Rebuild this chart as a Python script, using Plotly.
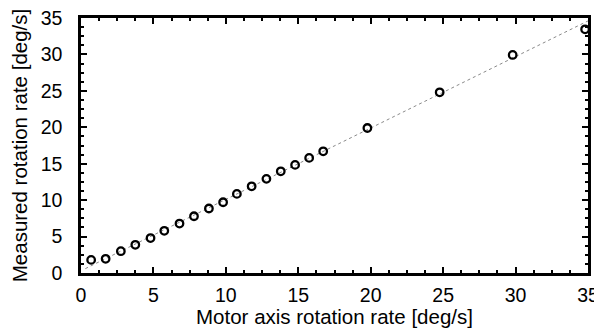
import plotly.graph_objects as go

# Data
motor_rate = [0.7, 1.7, 2.75, 3.75, 4.8, 5.75, 6.8, 7.8, 8.83, 9.81, 10.76, 11.78,
              12.8, 13.79, 14.78, 15.75, 16.72, 19.77, 24.76, 29.8, 34.8]
measured_rate = [1.8, 1.95, 2.99, 3.87, 4.8, 5.79, 6.79, 7.79, 8.85, 9.71, 10.86, 11.9,
                 12.92, 13.96, 14.84, 15.8, 16.7, 19.9, 24.8, 29.93, 33.45]
fit_x = [0.3, 35.0]
fit_y = [0.6, 34.6]

axis_range = [0, 35]
major_ticks = [0, 5, 10, 15, 20, 25, 30, 35]
tick_labels = ["0", "5", "10", "15", "20", "25", "30", "35"]
minor_ticks = [i * 1.25 for i in range(29)]

FONT = "Liberation Sans, Arial, Helvetica, sans-serif"

fig = go.Figure()
fig.add_trace(go.Scatter(
    x=fit_x, y=fit_y, mode="lines",
    line=dict(color="#8a8a8a", width=1, dash="dot"),
    showlegend=False, hoverinfo="skip"))
fig.add_trace(go.Scatter(
    x=motor_rate, y=measured_rate, mode="markers",
    marker=dict(symbol="circle-open", size=7.5, color="black", line=dict(width=2.3, color="black")),
    cliponaxis=False, showlegend=False))

axis_common = dict(
    range=axis_range, tickmode="array", tickvals=major_ticks, ticktext=tick_labels,
    showgrid=False, zeroline=False, automargin=False, ticklabeloverflow="allow",
    showline=True, linecolor="black", linewidth=2.5, mirror="ticks",
    ticks="inside", ticklen=6, tickwidth=2, tickcolor="black",
    tickfont=dict(family=FONT, size=19.5, color="black"),
    title_font=dict(family=FONT, size=20.5, color="black"),
    minor=dict(ticks="inside", ticklen=3.5, tickwidth=2, tickcolor="black",
               tickmode="array", tickvals=minor_ticks, showgrid=False),
)

fig.update_xaxes(title_text="Motor axis rotation rate [deg/s]", title_standoff=3,
                 ticklabelstandoff=3, **axis_common)
fig.update_yaxes(title_text="Measured rotation rate [deg/s]", title_standoff=8,
                 ticklabelstandoff=12, **axis_common)

# the page body adds an 8px offset, so the figure is sized to fit the window
fig.update_layout(
    width=594, height=320,
    margin=dict(l=73, r=14, t=10, b=54.5),
    paper_bgcolor="white", plot_bgcolor="white",
    font=dict(family=FONT, color="black"),
)

fig.write_html("out.html")
